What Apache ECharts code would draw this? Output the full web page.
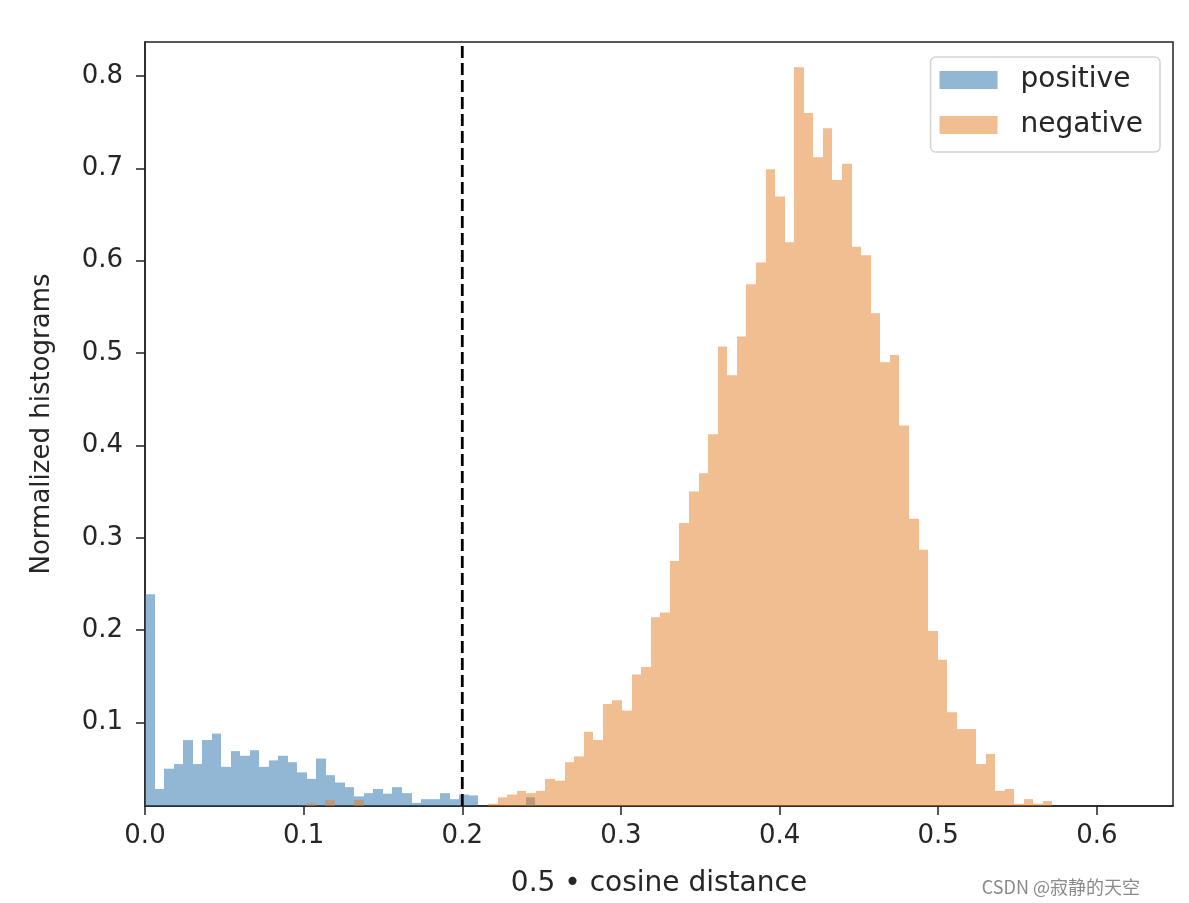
<!DOCTYPE html>
<html>
<head>
<meta charset="utf-8">
<script src="https://cdn.jsdelivr.net/npm/echarts@6/dist/echarts.min.js"></script>
<style>
  html, body { margin: 0; padding: 0; background: #fff; }
  #chart { width: 1189px; height: 903px; }
</style>
</head>
<body>
<div id="chart"></div>
<script>
// ---- data ----
const seriesNames = ['positive', 'negative'];

// positive histogram: bin start, bin width, normalized heights
const posStart = 0.0;
const posWidth = 0.006;
const posValues = [
  0.239, 0.028, 0.050, 0.055, 0.081, 0.055, 0.081, 0.088, 0.052, 0.069,
  0.064, 0.070, 0.052, 0.059, 0.064, 0.057, 0.046, 0.039, 0.061, 0.043,
  0.035, 0.030, 0.020, 0.0235, 0.028, 0.023, 0.030, 0.0235, 0.013, 0.017,
  0.017, 0.0235, 0.017, 0.022, 0.021, 0.004, 0.006, 0.004, 0.0, 0.0,
  0.019
];

// negative histogram: bin start, bin width, normalized heights
const negStart = 0.1017;
const negWidth = 0.00603;
const negValues = [
  0.012, 0.006, 0.016, 0.006, 0.005, 0.016, 0.004, 0.004, 0.004, 0.004,
  0.004, 0.004, 0.004, 0.004, 0.004, 0.004, 0.005, 0.006, 0.009, 0.012,
  0.019, 0.022, 0.026, 0.0235, 0.026, 0.039, 0.037, 0.057, 0.0633, 0.090,
  0.081, 0.120, 0.124, 0.113, 0.152, 0.160, 0.214, 0.219, 0.275, 0.316,
  0.350, 0.370, 0.412, 0.507, 0.476, 0.518, 0.5745, 0.598, 0.699, 0.6695,
  0.620, 0.8095, 0.760, 0.712, 0.7435, 0.6875, 0.705, 0.615, 0.606, 0.543,
  0.490, 0.498, 0.4215, 0.3205, 0.287, 0.199, 0.168, 0.111, 0.093, 0.093,
  0.055, 0.066, 0.026, 0.028, 0.012, 0.017, 0.012, 0.015
];

const xTicks = [0.0, 0.1, 0.2, 0.3, 0.4, 0.5, 0.6];
const yTicks = [0.1, 0.2, 0.3, 0.4, 0.5, 0.6, 0.7, 0.8];
const xRange = [0.0, 0.648];
const yRange = [0.0096, 0.8368];
const threshold = 0.2;

const xLabel = '0.5 • cosine distance';
const yLabel = 'Normalized histograms';
const watermark = 'CSDN @寂静的天空';

// ---- build ----
function binsOf(start, width, values) {
  return values.map((v, i) => [start + i * width, start + (i + 1) * width, v]);
}

function makeRender(color) {
  return function (params, api) {
    const x0 = api.value(0), x1 = api.value(1), h = api.value(2);
    if (!(h > yRange[0])) return null;
    const p0 = api.coord([x0, h]);
    const p1 = api.coord([x1, yRange[0]]);
    const left = Math.round(p0[0]);
    const right = Math.round(p1[0]);
    const rect = { x: left, y: p0[1], width: right - left, height: p1[1] - p0[1] };
    const cs = params.coordSys;
    const clipped = echarts.graphic.clipRectByRect(rect, { x: cs.x, y: cs.y, width: cs.width, height: cs.height });
    if (!clipped) return null;
    return { type: 'rect', shape: clipped, style: { fill: color, opacity: 0.5 } };
  };
}

const FONT = 'DejaVu Sans';
const TXT = '#262626';
const colPos = 'rgb(35,111,169)';
const colNeg = 'rgb(225,125,35)';

const chart = echarts.init(document.getElementById('chart'), null, { renderer: 'canvas' });
chart.setOption({
  animation: false,
  backgroundColor: '#fff',
  grid: { left: 145, right: 16, top: 42, bottom: 97, show: true, borderColor: '#222', borderWidth: 1.5, backgroundColor: 'transparent' },
  legend: {
    orient: 'vertical',
    right: 29,
    top: 57,
    data: [
      { name: seriesNames[0], itemStyle: { color: '#91b7d4', opacity: 1 } },
      { name: seriesNames[1], itemStyle: { color: '#f0be91', opacity: 1 } }
    ],
    icon: 'rect',
    itemWidth: 58,
    itemHeight: 18,
    itemGap: 15,
    padding: [8, 17, 12, 9],
    backgroundColor: '#fff',
    borderColor: '#d4d4d4',
    borderWidth: 1.5,
    borderRadius: 5,
    textStyle: { fontFamily: FONT, fontSize: 28, color: TXT, lineHeight: 30, padding: [0, 0, 0, 18] }
  },
  xAxis: {
    type: 'value',
    min: xRange[0],
    max: xRange[1],
    name: xLabel,
    nameLocation: 'middle',
    nameGap: 64,
    nameTextStyle: { fontFamily: FONT, fontSize: 28, color: TXT },
    axisLine: { show: true, onZero: false, lineStyle: { color: '#222', width: 1.5 } },
    axisTick: { show: true, length: 9, lineStyle: { color: '#222', width: 1.5 }, customValues: xTicks },
    axisLabel: { fontFamily: FONT, fontSize: 26, color: TXT, margin: 17, customValues: xTicks, formatter: v => Number(v).toFixed(1) },
    splitLine: { show: false }
  },
  yAxis: {
    type: 'value',
    min: yRange[0],
    max: yRange[1],
    name: yLabel,
    nameLocation: 'middle',
    nameGap: 90,
    nameRotate: 90,
    nameTextStyle: { fontFamily: FONT, fontSize: 26, color: TXT },
    axisLine: { show: true, onZero: false, lineStyle: { color: '#222', width: 1.5 } },
    axisTick: { show: true, length: 9, lineStyle: { color: '#222', width: 1.5 }, customValues: yTicks },
    axisLabel: { fontFamily: FONT, fontSize: 26, color: TXT, margin: 22, customValues: yTicks, formatter: v => Number(v).toFixed(1) },
    splitLine: { show: false }
  },
  graphic: [{
    type: 'text',
    right: 49,
    bottom: 7,
    style: { text: watermark, fontFamily: 'Noto Sans CJK SC', fontSize: 18, fill: '#8a8a8a' }
  }],
  series: [
    {
      name: seriesNames[0],
      type: 'custom',
      renderItem: makeRender(colPos),
      itemStyle: { color: '#91b7d4' },
      encode: { x: [0, 1], y: 2 },
      data: binsOf(posStart, posWidth, posValues),
      z: 2
    },
    {
      name: seriesNames[1],
      type: 'custom',
      renderItem: makeRender(colNeg),
      itemStyle: { color: '#f0be91' },
      encode: { x: [0, 1], y: 2 },
      data: binsOf(negStart, negWidth, negValues),
      z: 3
    },
    {
      name: 'threshold',
      type: 'line',
      data: [[threshold, yRange[0]], [threshold, yRange[1]]],
      symbol: 'none',
      lineStyle: { color: '#000', width: 2.8, type: [12, 5] },
      silent: true,
      z: 5
    }
  ]
});
</script>
</body>
</html>
